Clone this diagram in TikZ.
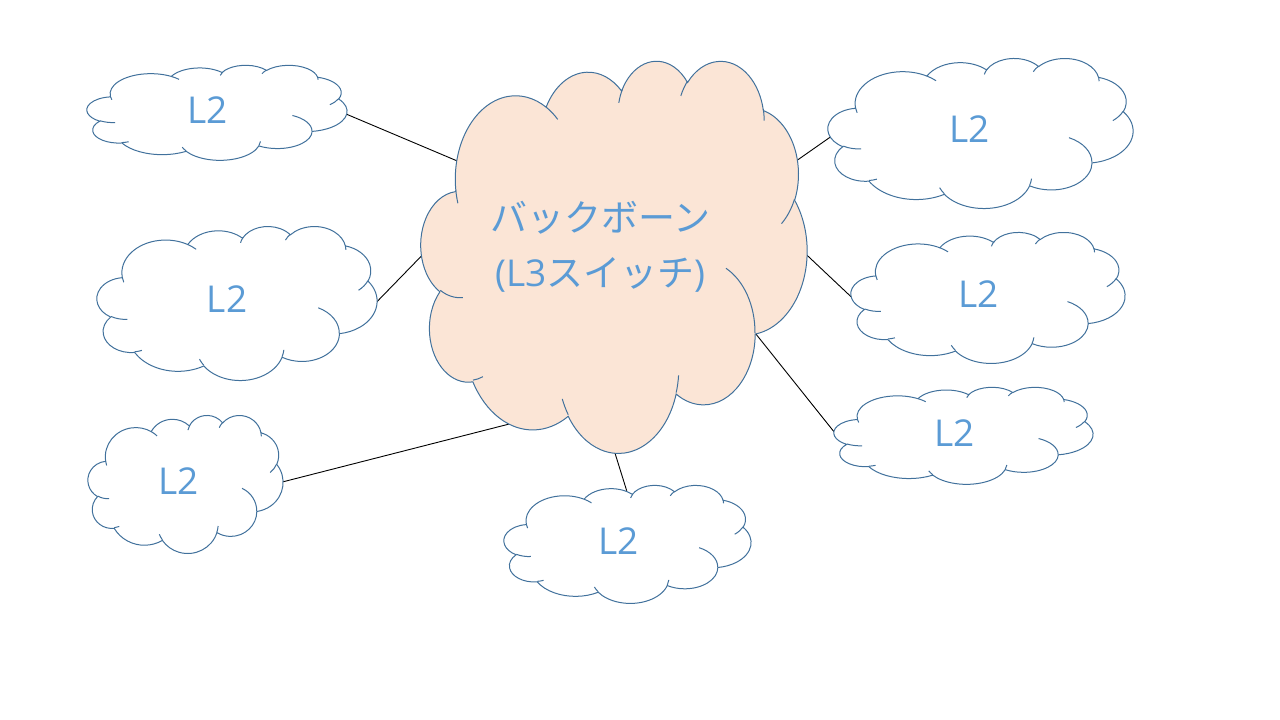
\documentclass[tikz,border=0pt]{standalone}
\usepackage{fontspec}
\newfontfamily\jp{Noto Sans CJK JP}
\newfontfamily\lat{Open Sans}
\definecolor{cloudline}{HTML}{41719C}
\definecolor{txtblue}{HTML}{5B9BD5}
\definecolor{peach}{HTML}{FBE5D6}
% cloud geometry helpers (Office "cloud" preset, units of 1/1000 of 43200)
\newcommand\cldset[4]{\gdef\cldx{#1}\gdef\cldy{#2}\gdef\cldw{#3}\gdef\cldh{#4}}
\newcommand\cldcalc[4]{%
  \pgfmathparse{#1*\cldw/43.2}\xdef\crx{\pgfmathresult}%
  \pgfmathparse{#2*\cldh/43.2}\xdef\cry{\pgfmathresult}%
  \pgfmathparse{atan2(-#1*sin(#3),#2*cos(#3))}\xdef\cta{\pgfmathresult}%
  \pgfmathparse{atan2(-#1*sin((#3)+(#4)),#2*cos((#3)+(#4)))}\xdef\ctb{\pgfmathresult}%
  \pgfmathparse{mod((\ctb)-(\cta)+720,360)-360}\xdef\ctd{\pgfmathresult}%
}
\def\carc#1#2#3#4{\pgfextra{\cldcalc{#1}{#2}{#3}{#4}} arc[start angle=\cta, delta angle=\ctd, x radius=\crx pt, y radius=\cry pt]}
\def\cP#1#2{({\cldx+(#1)*\cldw/43.2},{720-(\cldy+(#2)*\cldh/43.2)})}
\newcommand\cloudshape[7]{% name, x0, y0, w, h, fill, text
  \cldset{#2}{#3}{#4}{#5}%
  \draw[cloudstroke, fill=#6] \cP{3.900}{14.370}
    \carc{6.753}{9.190}{-190.4875}{123.7805}
    \carc{5.333}{7.267}{-144.1024}{89.9452}
    \carc{4.365}{5.945}{-145.8079}{99.7230}
    \carc{4.857}{6.595}{-130.9861}{117.2417}
    \carc{5.333}{7.273}{-78.7089}{109.0269}
    \carc{6.775}{9.220}{-46.2673}{130.2690}
    \carc{5.785}{7.867}{0.6250}{114.0333}
    \carc{6.752}{9.215}{22.4516}{115.1726}
    \carc{7.720}{10.543}{66.2426}{75.7110}
    \carc{4.360}{5.918}{-274.9421}{146.7356}
    \carc{4.345}{5.945}{-246.8285}{152.5189}
    -- cycle;
  \draw[cloudstroke]
    \cP{4.693}{26.177} \carc{4.345}{5.945}{86.7420}{26.4295}
    \cP{6.928}{34.899} \carc{4.360}{5.918}{73.6105}{11.4475}
    \cP{16.478}{39.090} \carc{6.752}{9.215}{137.6242}{14.0811}
    \cP{28.827}{34.751} \carc{6.752}{9.215}{6.4533}{15.9984}
    \cP{34.129}{22.954} \carc{5.785}{7.867}{-70.2924}{70.9174}
    \cP{41.798}{15.354} \carc{5.333}{7.273}{30.3180}{27.7515}
    \cP{38.324}{5.426} \carc{4.857}{6.595}{-13.7443}{14.8589}
    \cP{29.078}{3.952} \carc{4.857}{6.595}{-149.1815}{18.1954}
    \cP{22.141}{4.720} \carc{4.365}{5.945}{-163.4943}{19.0130}
    \cP{14.000}{5.192} \carc{6.753}{9.190}{-66.7070}{12.3194}
    \cP{4.127}{15.789} \carc{6.753}{9.190}{157.6544}{11.8582};
  \node[lbl] (#1) at ({\cldx+0.4645*\cldw},{720-(\cldy+0.4768*\cldh)}) {#7};
}
\tikzset{
  cloudstroke/.style={draw=cloudline, line width=1pt},
  lbl/.style={text=txtblue, inner sep=0pt, font=\lat\fontsize{37}{55}\selectfont, align=center},
  conn/.style={draw=black, line width=0.9pt}
}
\begin{document}
\begin{tikzpicture}[x=1pt,y=1pt]
\useasboundingbox (0,0) rectangle (1280,720);
% connector end points
\coordinate (e1a) at (346,606);   \coordinate (e1b) at (457.3,559);
\coordinate (e2a) at (376.7,418); \coordinate (e2b) at (422.7,465.3);
\coordinate (e3a) at (282.3,238); \coordinate (e3b) at (516,297.7);
\coordinate (e4a) at (626.7,229.3); \coordinate (e4b) at (614,270);
\coordinate (e5a) at (830,582.7); \coordinate (e5b) at (795.7,558.7);
\coordinate (e6a) at (851,423.3); \coordinate (e6b) at (805.7,466);
\coordinate (e7a) at (836,285.7); \coordinate (e7b) at (754.3,388);
\foreach \i in {1,...,7} { \draw[conn] (e\i a) -- (e\i b); }
% clouds
\cloudshape{core}{421}{60}{386}{392}{peach}{{\jp バックボーン}\\{\lat (L3}{\jp スイッチ}{\lat )}}
\cloudshape{tl}{87}{65}{260}{95}{white}{L2}
\cloudshape{ml}{97}{226}{280}{154}{white}{L2}
\cloudshape{bl}{88}{415}{195}{138}{white}{L2}
\cloudshape{bc}{504}{485}{247}{118}{white}{L2}
\cloudshape{tr}{828}{58}{305}{150}{white}{L2}
\cloudshape{mr}{851}{232}{274}{131}{white}{L2}
\cloudshape{lr}{834}{387}{259}{97}{white}{L2}
\end{tikzpicture}
\end{document}
